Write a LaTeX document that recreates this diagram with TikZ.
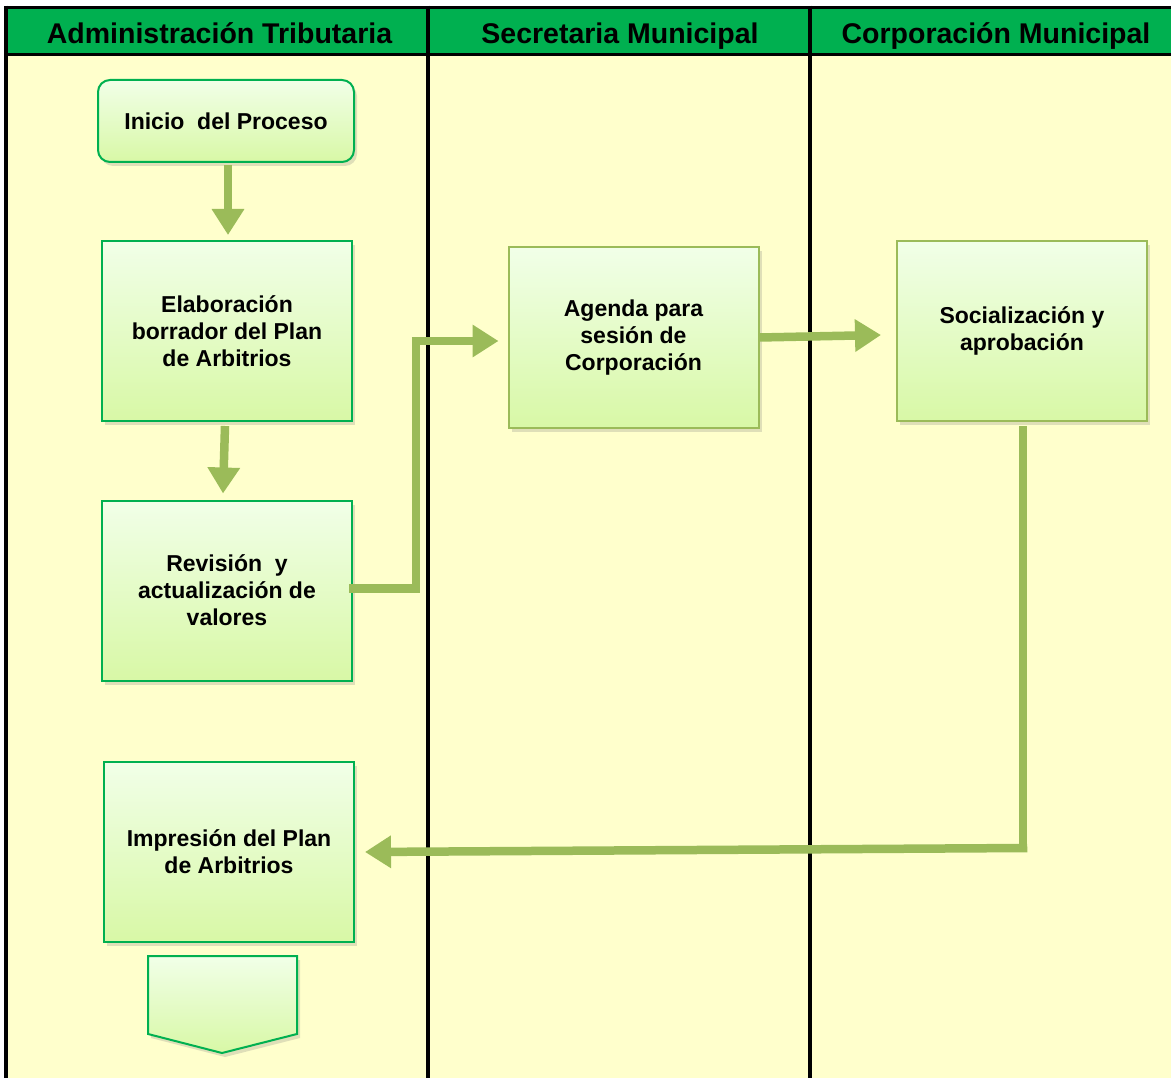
\documentclass[tikz,border=0pt]{standalone}
\usepackage{fontspec}
\setmainfont{Liberation Sans}
\usetikzlibrary{arrows.meta,shadows}
\definecolor{cream}{HTML}{FFFFCC}
\definecolor{hdrgreen}{HTML}{00B050}
\definecolor{olive}{HTML}{9BBB59}
\definecolor{boxtop}{HTML}{F1FFE8}
\definecolor{boxbot}{HTML}{D8F8A6}
\tikzset{
  hdr/.style={font=\fontsize{28.5}{32}\selectfont\bfseries, text=black, inner sep=0pt, anchor=base},
  procbox/.style={draw=hdrgreen, line width=2pt, top color=boxtop, bottom color=boxbot,
    minimum width=250pt, minimum height=180pt, align=center, inner sep=0pt,
    font=\fontsize{23}{27}\selectfont\bfseries,
    drop shadow={opacity=0.25, shadow xshift=3pt, shadow yshift=-4pt}},
  procboxb/.style={procbox, draw=olive},
  flow/.style={draw=olive, line width=8.5pt, line join=miter,
    -{Triangle[width=31pt,length=26pt]}},
  lanerule/.style={line width=3.5pt, black}
}
\begin{document}
\begin{tikzpicture}[x=1pt,y=-1pt]
\useasboundingbox (0,0) rectangle (1171,1078);
\fill[white] (0,0) rectangle (1171,1078);
% lanes
\fill[hdrgreen] (6,7.5) rectangle (1180,54.5);
\fill[cream] (6,54.5) rectangle (1180,1080);
\draw[lanerule] (4.25,7.5) -- (1180,7.5);
\draw[lanerule] (6,54.5) -- (1180,54.5);
\draw[lanerule] (6,5.75) -- (6,1080);
\draw[lanerule] (428,5.75) -- (428,1080);
\draw[lanerule] (810,5.75) -- (810,1080);
% headers
\node[hdr] (h1) at (219.5,44) {Administración Tributaria};
\node[hdr] (h2) at (620,44) {Secretaria Municipal};
\node[hdr] (h3) at (996,44) {Corporación Municipal};
% boxes
\node[procbox, minimum width=256pt, minimum height=82pt, rounded corners=12pt] (ini) at (226,121) {Inicio\ \ del Proceso};
\node[procbox] (elab) at (227,331) {Elaboración\\borrador del Plan\\de Arbitrios};
\node[procbox] (rev) at (227,590.5) {Revisión\ \ y\\actualización de\\valores};
\node[procbox] (imp) at (229,852) {Impresión del Plan\\de Arbitrios};
\node[procboxb] (agenda) at (633.5,337.5) {Agenda para\\sesión de\\Corporación};
\node[procboxb] (soc) at (1022,331) {Socialización y\\aprobación};
% off-page connector
\path[draw=hdrgreen, line width=2pt, top color=boxtop, bottom color=boxbot,
  drop shadow={opacity=0.25, shadow xshift=3pt, shadow yshift=-4pt}]
  (148,956) -- (297,956) -- (297,1034) -- (222,1053) -- (148,1034) -- cycle;
% connectors
\coordinate (c1) at (416,341);
\coordinate (c2) at (1023,848);
\draw[flow] ([xshift=2pt,yshift=-2pt]ini.south) -- ([xshift=1pt,yshift=5pt]elab.north);
\draw[flow] ([xshift=-2pt,yshift=-4pt]elab.south) -- ([xshift=-4pt,yshift=6pt]rev.north);
\draw[flow, -] ([xshift=-4pt,yshift=2pt]rev.east) -| (c1);
\draw[flow] ([xshift=-4.25pt]c1) -- ([xshift=-9pt,yshift=-3.5pt]agenda.west);
\draw[flow] (agenda.east) -- ([xshift=-15pt,yshift=-4pt]soc.west);
\draw[flow, -] ([xshift=1pt,yshift=-4pt]soc.south) -- ([yshift=4.25pt]c2);
\draw[flow] ([xshift=4.25pt]c2) -- ([xshift=10pt]imp.east);
\end{tikzpicture}
\end{document}
